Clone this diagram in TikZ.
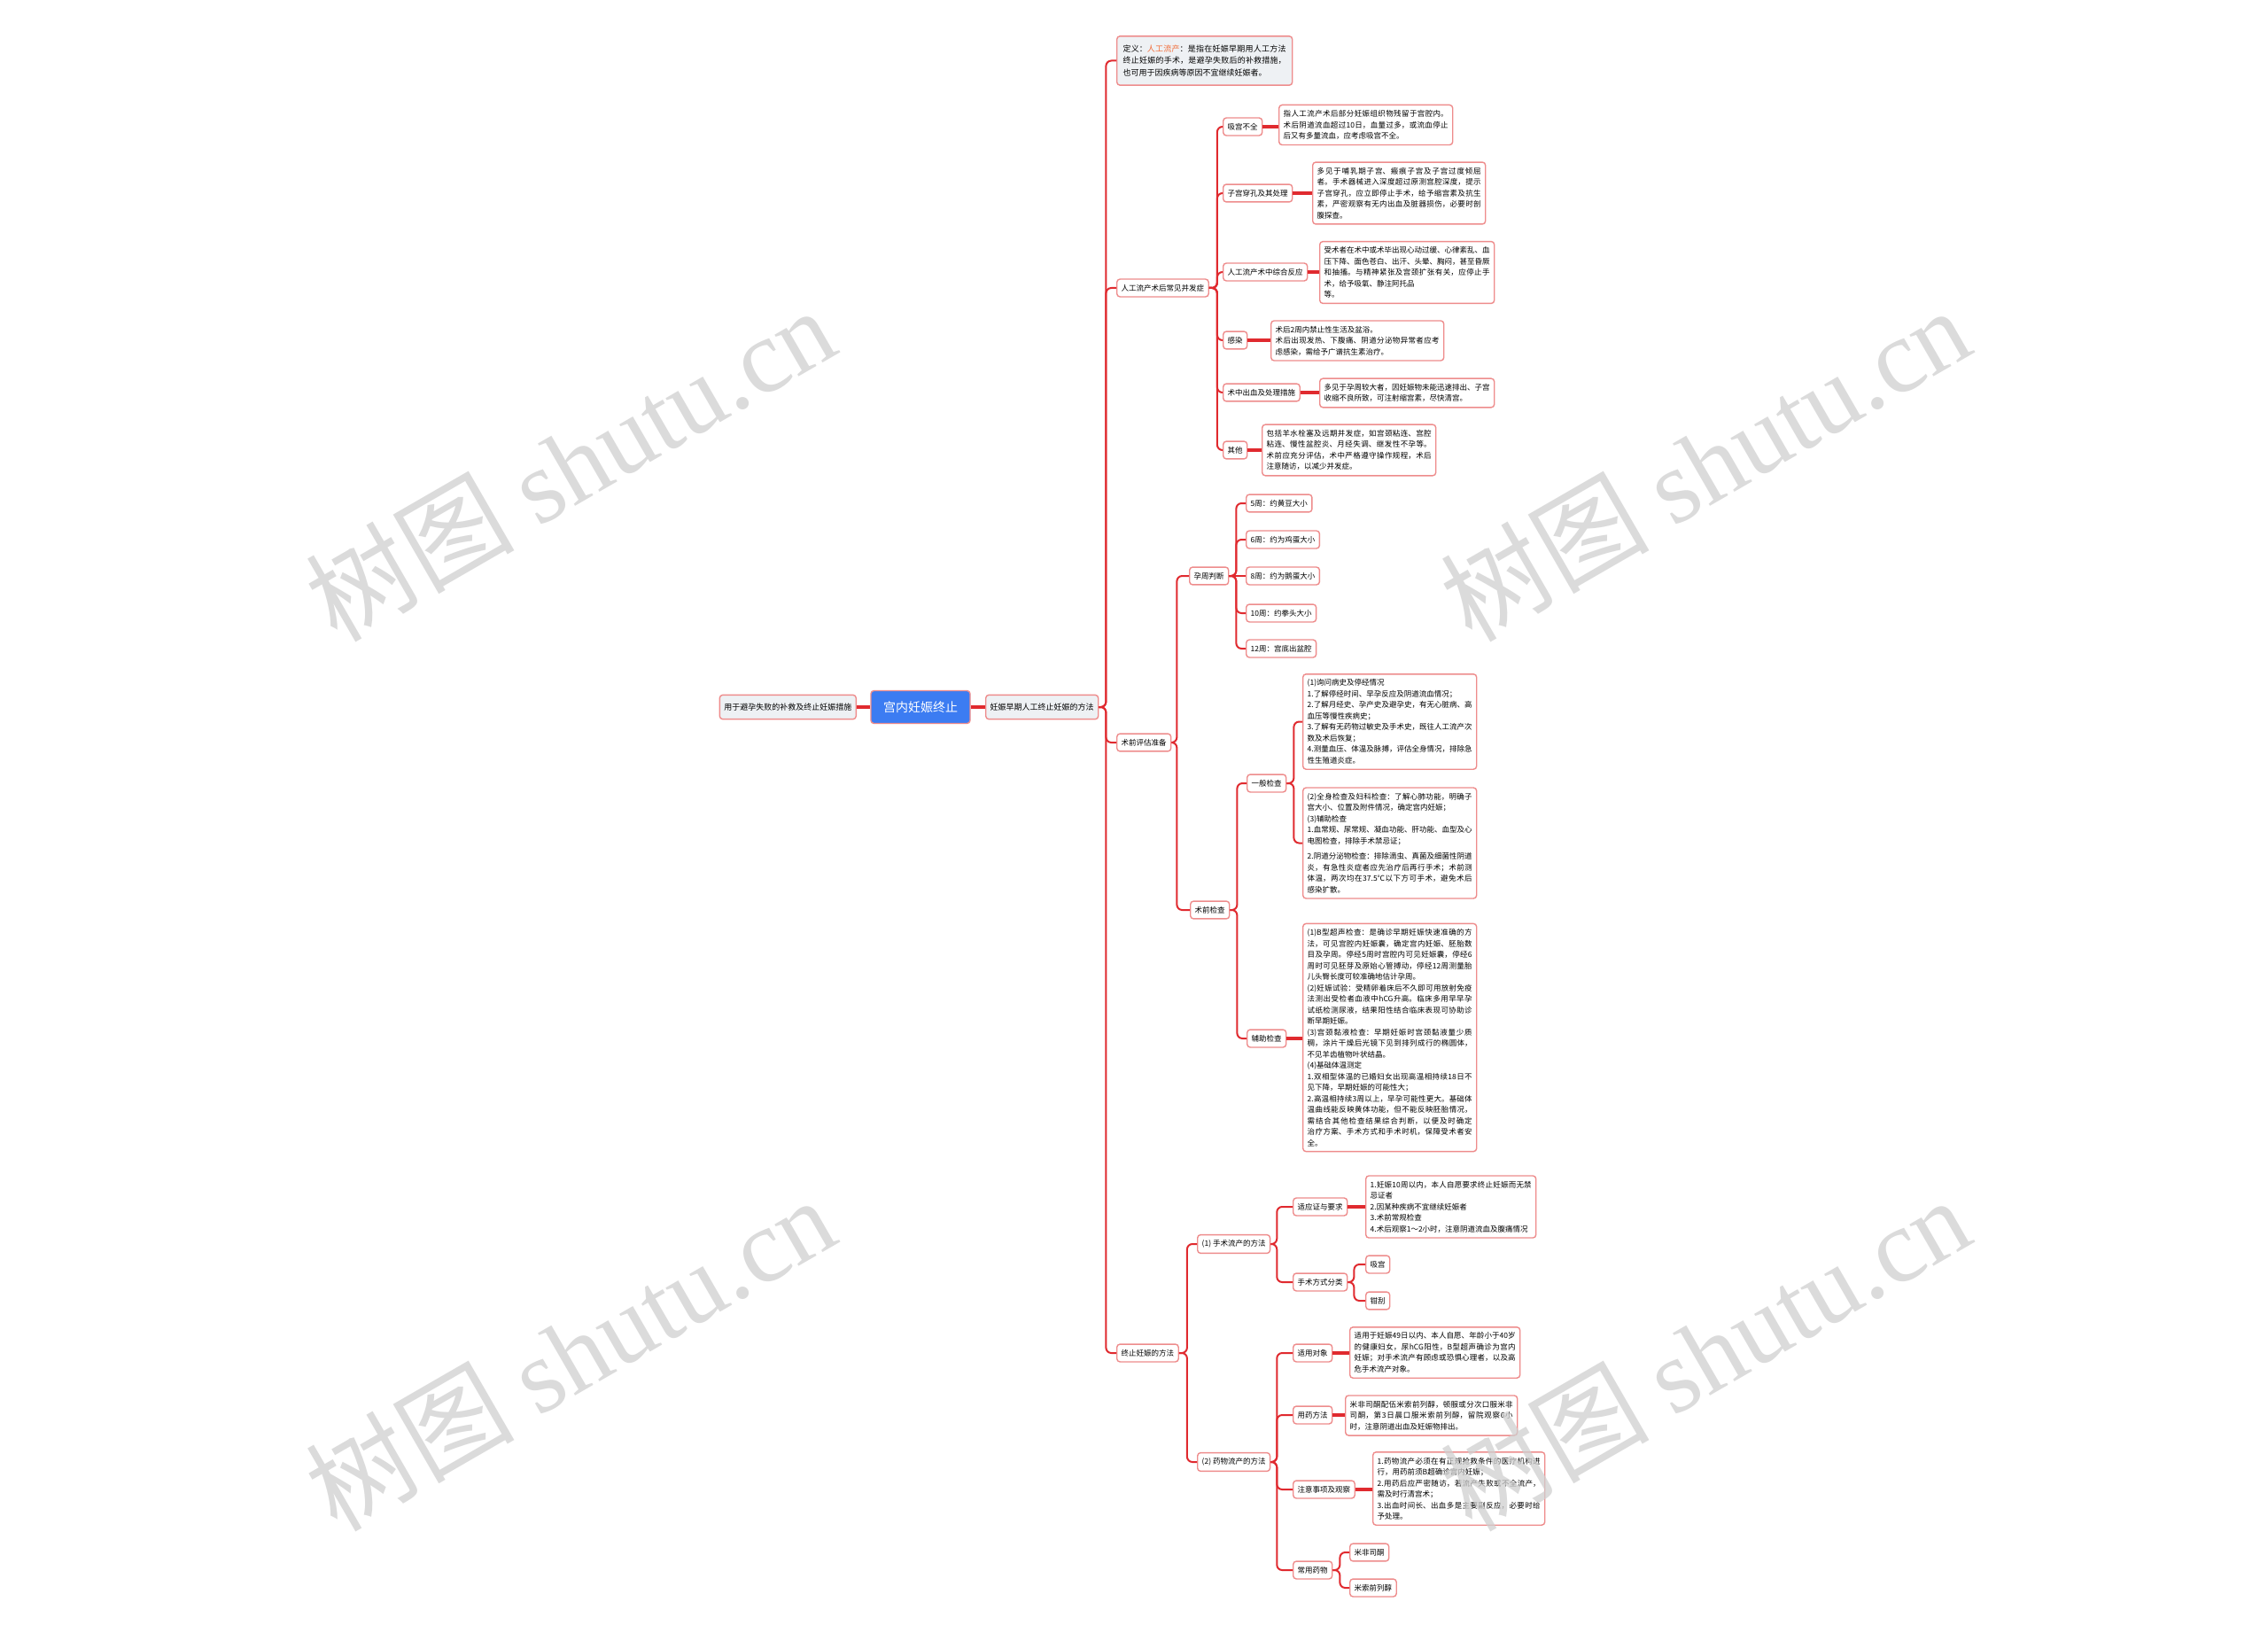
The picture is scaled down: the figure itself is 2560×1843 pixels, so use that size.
\documentclass[tikz,border=0pt]{standalone}
\usepackage{fontspec}
\setmainfont{Noto Sans CJK SC}
\newfontfamily\wmlatin{Liberation Serif}
\XeTeXlinebreaklocale "zh"
\XeTeXlinebreakskip=0pt plus 1pt
\definecolor{lnk}{HTML}{E02A2F}
\definecolor{edge}{HTML}{EE8C8C}
\definecolor{hl}{HTML}{F26A35}
\definecolor{topic}{HTML}{3C7CF2}
\definecolor{pale}{HTML}{EEF1F4}
\definecolor{wm}{HTML}{CFCFCF}
\begin{document}
\begin{tikzpicture}[x=1pt, y=-1pt,
  box/.style={draw=edge, line width=1.4pt, rounded corners=3.5pt, fill=white, inner xsep=5pt, inner ysep=6pt, font=\fontsize{8.5}{12.5}\selectfont},
  lbl/.style={box, anchor=west},
  txt/.style={box, anchor=west, text width=#1pt, align=justify},
  link/.style={draw=lnk, line width=2pt, rounded corners=6pt},
  tie/.style={draw=lnk, line width=3.5pt},
  wmark/.style={text=wm, opacity=0.75, rotate=30, font=\fontsize{118}{118}\selectfont}]
\fill[white] (0,0) rectangle (2560,1843);
\useasboundingbox (0,0) rectangle (2560,1843);

\node[box, fill=topic, text=white, font=\fontsize{14}{16}\selectfont, inner xsep=14pt, inner ysep=12pt] (root) at (1039,798) {宫内妊娠终止};
\node[lbl, anchor=east, fill=pale, inner ysep=9.5pt, font=\fontsize{9}{11}\selectfont] (left) at (967,798) {用于避孕失败的补救及终止妊娠措施};
\node[lbl, fill=pale, inner ysep=9.5pt, font=\fontsize{9}{11}\selectfont] (main) at (1112,798) {妊娠早期人工终止妊娠的方法};
\draw[tie] (left) -- (root);
\draw[tie] (root) -- (main);

\node[txt=184, fill=pale, inner xsep=7pt, inner ysep=10pt, font=\fontsize{9}{13.5}\selectfont] (def) at (1260,68.5) {定义：\textcolor{hl}{人工流产}：是指在妊娠早期用人工方法终止妊娠的手术，是避孕失败后的补救措施，也可用于因疾病等原因不宜继续妊娠者。};
\node[lbl] (g2) at (1260,325) {人工流产术后常见并发症};
\node[lbl] (g3) at (1260,838) {术前评估准备};
\node[lbl] (g4) at (1260,1527) {终止妊娠的方法};
\draw[link] (main.east) -- ++(8,0) |- (def.west);
\draw[link] (main.east) -- ++(8,0) |- (g2.west);
\draw[link] (main.east) -- ++(8,0) |- (g3.west);
\draw[link] (main.east) -- ++(8,0) |- (g4.west);

\node[lbl] (c1) at (1380,143) {吸宫不全};
\node[txt=186] (c1x) at (1443,141) {指人工流产术后部分妊娠组织物残留于宫腔内。术后阴道流血超过10日，血量过多，或流血停止后又有多量流血，应考虑吸宫不全。};
\node[lbl] (c2) at (1380,218) {子宫穿孔及其处理};
\node[txt=185] (c2x) at (1481,218) {多见于哺乳期子宫、瘢痕子宫及子宫过度倾屈者。手术器械进入深度超过原测宫腔深度，提示子宫穿孔，应立即停止手术，给予缩宫素及抗生素，严密观察有无内出血及脏器损伤，必要时剖腹探查。};
\node[lbl] (c3) at (1380,307) {人工流产术中综合反应};
\node[txt=187] (c3x) at (1489,307.5) {受术者在术中或术毕出现心动过缓、心律紊乱、血压下降、面色苍白、出汗、头晕、胸闷，甚至昏厥和抽搐。与精神紧张及宫颈扩张有关，应停止手术，给予吸氧、静注阿托品\\等。};
\node[lbl] (c4) at (1380,384) {感染};
\node[txt=185] (c4x) at (1434,384.5) {术后2周内禁止性生活及盆浴。\\术后出现发热、下腹痛、阴道分泌物异常者应考虑感染，需给予广谱抗生素治疗。};
\node[lbl] (c5) at (1380,443) {术中出血及处理措施};
\node[txt=187] (c5x) at (1489,443.5) {多见于孕周较大者，因妊娠物未能迅速排出、子宫收缩不良所致，可注射缩宫素，尽快清宫。};
\node[lbl] (c6) at (1380,508) {其他};
\node[txt=186] (c6x) at (1424,508) {包括羊水栓塞及远期并发症，如宫颈粘连、宫腔粘连、慢性盆腔炎、月经失调、继发性不孕等。术前应充分评估，术中严格遵守操作规程，术后注意随访，以减少并发症。};
\draw[link] (g2.east) -- ++(9,0) |- (c1.west);
\draw[link] (g2.east) -- ++(9,0) |- (c2.west);
\draw[link] (g2.east) -- ++(9,0) |- (c3.west);
\draw[link] (g2.east) -- ++(9,0) |- (c4.west);
\draw[link] (g2.east) -- ++(9,0) |- (c5.west);
\draw[link] (g2.east) -- ++(9,0) |- (c6.west);
\draw[tie] (c1.east) -- (c1.east -| c1x.west);
\draw[tie] (c2.east) -- (c2.east -| c2x.west);
\draw[tie] (c3.east) -- (c3.east -| c3x.west);
\draw[tie] (c4.east) -- (c4.east -| c4x.west);
\draw[tie] (c5.east) -- (c5.east -| c5x.west);
\draw[tie] (c6.east) -- (c6.east -| c6x.west);

\node[lbl] (wk) at (1342,650) {孕周判断};
\node[lbl] (wk1) at (1406,568) {5周：约黄豆大小};
\node[lbl] (wk2) at (1406,609) {6周：约为鸡蛋大小};
\node[lbl] (wk3) at (1406,650) {8周：约为鹅蛋大小};
\node[lbl] (wk4) at (1406,692) {10周：约拳头大小};
\node[lbl] (wk5) at (1406,732) {12周：宫底出盆腔};
\draw[link] (g3.east) -- ++(6,0) |- (wk.west);
\draw[link] (wk.east) -- ++(8,0) |- (wk1.west);
\draw[link] (wk.east) -- ++(8,0) |- (wk2.west);
\draw[link] (wk.east) -- (wk3.west);
\draw[link] (wk.east) -- ++(8,0) |- (wk4.west);
\draw[link] (wk.east) -- ++(8,0) |- (wk5.west);

\node[lbl] (ex) at (1343,1027) {术前检查};
\node[lbl] (exa) at (1407,884) {一般检查};
\node[lbl] (exb) at (1407,1172) {辅助检查};
\node[txt=186] (exa1) at (1470,814.5) {(1)询问病史及停经情况\\
1.了解停经时间、早孕反应及阴道流血情况；\\
2.了解月经史、孕产史及避孕史，有无心脏病、高血压等慢性疾病史；\\
3.了解有无药物过敏史及手术史，既往人工流产次数及术后恢复；\\
4.测量血压、体温及脉搏，评估全身情况，排除急性生殖道炎症。};
\node[txt=186] (exa2) at (1470,951.5) {(2)全身检查及妇科检查：了解心肺功能，明确子宫大小、位置及附件情况，确定宫内妊娠；\\
(3)辅助检查\\
1.血常规、尿常规、凝血功能、肝功能、血型及心电图检查，排除手术禁忌证；\\[5pt]
2.阴道分泌物检查：排除滴虫、真菌及细菌性阴道炎，有急性炎症者应先治疗后再行手术；术前测体温，两次均在37.5℃以下方可手术，避免术后感染扩散。};
\node[txt=186] (exb1) at (1470,1171) {(1)B型超声检查：是确诊早期妊娠快速准确的方法，可见宫腔内妊娠囊，确定宫内妊娠、胚胎数目及孕周。停经5周时宫腔内可见妊娠囊，停经6周时可见胚芽及原始心管搏动，停经12周测量胎儿头臀长度可较准确地估计孕周。\\
(2)妊娠试验：受精卵着床后不久即可用放射免疫法测出受检者血液中hCG升高。临床多用早早孕试纸检测尿液，结果阳性结合临床表现可协助诊断早期妊娠。\\
(3)宫颈黏液检查：早期妊娠时宫颈黏液量少质稠，涂片干燥后光镜下见到排列成行的椭圆体，不见羊齿植物叶状结晶。\\
(4)基础体温测定\\
1.双相型体温的已婚妇女出现高温相持续18日不见下降，早期妊娠的可能性大；\\
2.高温相持续3周以上，早孕可能性更大。基础体温曲线能反映黄体功能，但不能反映胚胎情况，需结合其他检查结果综合判断，以便及时确定治疗方案、手术方式和手术时机，保障受术者安全。};
\draw[link] (g3.east) -- ++(6,0) |- (ex.west);
\draw[link] (ex.east) -- ++(8,0) |- (exa.west);
\draw[link] (ex.east) -- ++(8,0) |- (exb.west);
\draw[link] (exa.east) -- ++(8,0) |- (exa1.west);
\draw[link] (exa.east) -- ++(8,0) |- (exa2.west);
\draw[tie] (exb.east) -- (exb.east -| exb1.west);

\node[lbl] (op) at (1351,1404) {(1) 手术流产的方法};
\node[lbl] (op1) at (1459,1362) {适应证与要求};
\node[txt=182] (op1x) at (1541,1362) {1.妊娠10周以内，本人自愿要求终止妊娠而无禁忌证者\\
2.因某种疾病不宜继续妊娠者\\
3.术前常规检查\\
4.术后观察1～2小时，注意阴道流血及腹痛情况};
\node[lbl] (op2) at (1459,1447) {手术方式分类};
\node[lbl] (op2a) at (1541,1427) {吸宫};
\node[lbl] (op2b) at (1541,1468) {钳刮};
\draw[link] (g4.east) -- ++(9,0) |- (op.west);
\draw[link] (op.east) -- ++(7,0) |- (op1.west);
\draw[link] (op.east) -- ++(7,0) |- (op2.west);
\draw[tie] (op1.east) -- (op1.east -| op1x.west);
\draw[link] (op2.east) -- ++(7,0) |- (op2a.west);
\draw[link] (op2.east) -- ++(7,0) |- (op2b.west);

\node[lbl] (md) at (1351,1650) {(2) 药物流产的方法};
\node[lbl] (md1) at (1459,1527) {适用对象};
\node[txt=182] (md1x) at (1523,1526.5) {适用于妊娠49日以内、本人自愿、年龄小于40岁的健康妇女，尿hCG阳性，B型超声确诊为宫内妊娠；对手术流产有顾虑或恐惧心理者，以及高危手术流产对象。};
\node[lbl] (md2) at (1459,1597) {用药方法};
\node[txt=184] (md2x) at (1518,1597.5) {米非司酮配伍米索前列醇，顿服或分次口服米非司酮，第3日晨口服米索前列醇，留院观察6小时，注意阴道出血及妊娠物排出。};
\node[lbl] (md3) at (1459,1681) {注意事项及观察};
\node[txt=184] (md3x) at (1549,1680) {1.药物流产必须在有正规抢救条件的医疗机构进行，用药前须B超确诊宫内妊娠；\\
2.用药后应严密随访，若流产失败或不全流产，需及时行清宫术；\\
3.出血时间长、出血多是主要副反应，必要时给予处理。};
\node[lbl] (md4) at (1459,1772) {常用药物};
\node[lbl] (md4a) at (1523,1752) {米非司酮};
\node[lbl] (md4b) at (1523,1792) {米索前列醇};
\draw[link] (g4.east) -- ++(9,0) |- (md.west);
\draw[link] (md.east) -- ++(7,0) |- (md1.west);
\draw[link] (md.east) -- ++(7,0) |- (md2.west);
\draw[link] (md.east) -- ++(7,0) |- (md3.west);
\draw[link] (md.east) -- ++(7,0) |- (md4.west);
\draw[tie] (md1.east) -- (md1.east -| md1x.west);
\draw[tie] (md2.east) -- (md2.east -| md2x.west);
\draw[tie] (md3.east) -- (md3.east -| md3x.west);
\draw[link] (md4.east) -- ++(8,0) |- (md4a.west);
\draw[link] (md4.east) -- ++(8,0) |- (md4b.west);

\node[wmark] (wm1) at (643,523) {树图 {\wmlatin shutu.cn}};
\node[wmark] (wm2) at (1924,523) {树图 {\wmlatin shutu.cn}};
\node[wmark] (wm3) at (643,1527) {树图 {\wmlatin shutu.cn}};
\node[wmark] (wm4) at (1924,1527) {树图 {\wmlatin shutu.cn}};
\end{tikzpicture}
\end{document}
